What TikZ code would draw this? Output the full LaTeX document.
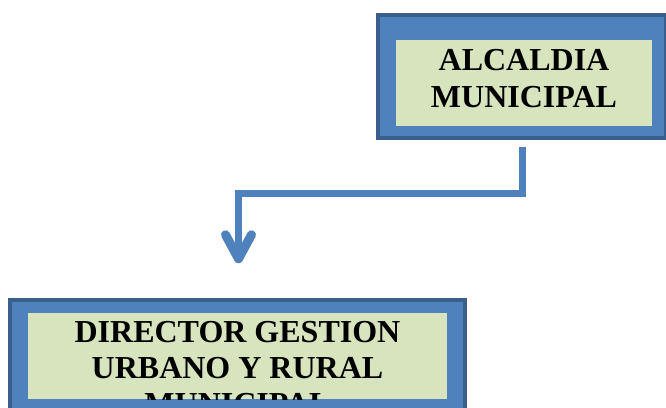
\documentclass[tikz,border=0pt]{standalone}
\usepackage{fontspec}
\setmainfont{Liberation Serif}
\usetikzlibrary{arrows.meta,positioning}
\definecolor{boxblue}{HTML}{4F81BD}
\definecolor{boxedge}{HTML}{3B5F8C}
\definecolor{boxgreen}{HTML}{D7E4BD}
\tikzset{
  outerbox/.style={draw=boxedge, fill=boxblue, line width=3.5pt, inner sep=0pt},
  innerbox/.style={fill=boxgreen, draw=none, inner sep=0pt},
  boxtext/.style={font=\fontsize{32}{37}\selectfont\bfseries, inner sep=0pt, anchor=base},
  linkarrow/.style={draw=boxblue, line width=7pt, line join=miter,
    -{Straight Barb[length=24pt,width=26pt,line width=9pt,round]}}
}
\begin{document}
\begin{tikzpicture}[x=1pt,y=-1pt]
\useasboundingbox (0,0) rectangle (666,407);
% top box
\node[outerbox, minimum width=288pt, minimum height=123pt] (alcOuter) at (522,76.5) {};
\node[innerbox, minimum width=256pt, minimum height=86pt] (alcInner) at (524,83) {};
\node[boxtext] (alcL1) at (524,70) {ALCALDIA};
\node[boxtext] (alcL2) at (524,107) {MUNICIPAL};
% bottom box
\node[outerbox, minimum width=455pt, minimum height=120pt] (dirOuter) at (237.5,360) {};
\node[innerbox, minimum width=419pt, minimum height=86pt] (dirInner) at (237.5,356) {};
\begin{scope}
\clip (dirInner.south west) rectangle (dirInner.north east);
\node[boxtext] (dirL1) at (237.5,342) {DIRECTOR GESTION};
\node[boxtext] (dirL2) at (237.5,378) {URBANO Y RURAL};
\node[boxtext] (dirL3) at (237.5,414) {MUNICIPAL};
\end{scope}
% connector
\draw[linkarrow] ([yshift=-7pt]alcOuter.south) -- ++(0,47) -| ([xshift=1pt,yshift=35pt]dirOuter.north);
\end{tikzpicture}
\end{document}
